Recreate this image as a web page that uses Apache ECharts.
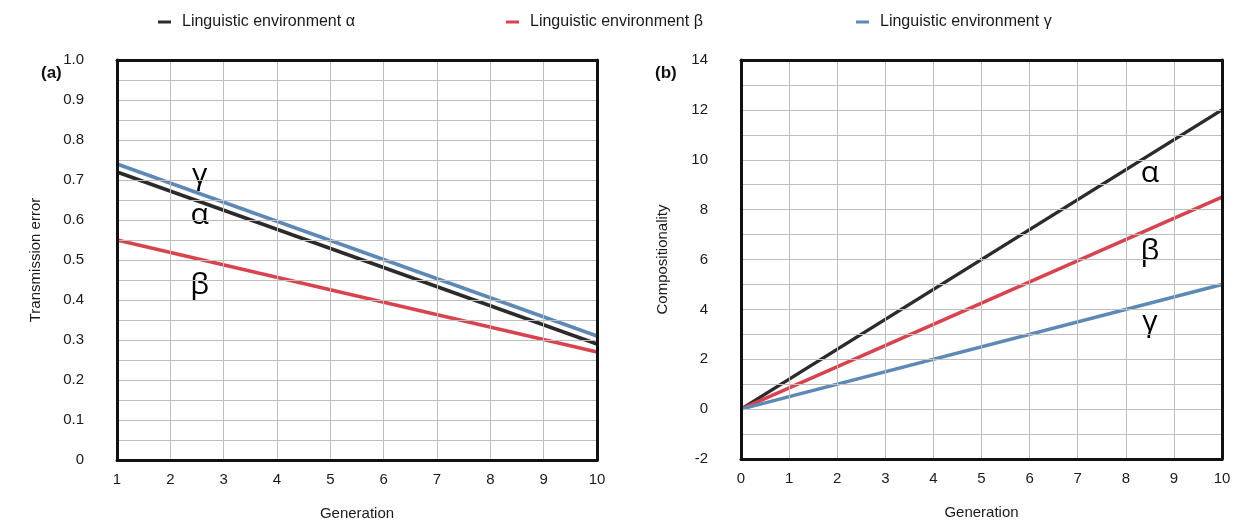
<!DOCTYPE html>
<html>
<head>
<meta charset="utf-8">
<script src="https://cdn.jsdelivr.net/npm/echarts@6/dist/echarts.min.js"></script>
<style>
  html, body { margin: 0; padding: 0; background: #fff; }
  #chart { width: 1237px; height: 523px; }
</style>
</head>
<body>
<div id="chart"></div>
<script>
// panel (a): transmission error by generation
const genA = [1, 10];
const errAlpha = [0.72, 0.29];
const errBeta = [0.55, 0.27];
const errGamma = [0.74, 0.31];

// panel (b): compositionality by generation
const genB = [0, 10];
const compAlpha = [0, 12];
const compBeta = [0, 8.5];
const compGamma = [0, 5];

// greek letter annotations [x, y, text]
const notesA = [[2.55, 0.7125, "γ"], [2.55, 0.612, "α"], [2.55, 0.4375, "β"]];
const notesB = [[8.5, 9.45, "α"], [8.5, 6.32, "β"], [8.5, 3.48, "γ"]];

const names = ["Linguistic environment α", "Linguistic environment β", "Linguistic environment γ"];
const colors = ["#2b2b2b", "#d8434d", "#5d89b7"];

const chart = echarts.init(document.getElementById("chart"));
const font = "Liberation Sans, Arial, sans-serif";

function pairs(xs, ys) {
  return xs.map((x, i) => [x, ys[i]]);
}

function lineSeries(name, data, idx, color) {
  return {
    name: name,
    type: "line",
    xAxisIndex: idx * 2,
    yAxisIndex: idx * 2,
    data: data,
    symbol: "none",
    lineStyle: { color: color, width: 3.5 },
    itemStyle: { color: color },
    silent: true,
    z: 3
  };
}

function noteSeries(notes, idx) {
  return {
    type: "scatter",
    xAxisIndex: idx * 2,
    yAxisIndex: idx * 2,
    symbolSize: 0,
    itemStyle: { opacity: 1 },
    data: notes.map(n => ({ value: [n[0], n[1]], label: { formatter: n[2] } })),
    label: {
      show: true,
      position: "inside",
      color: "#000",
      fontSize: 30,
      fontFamily: "Open Sans, DejaVu Sans, sans-serif"
    },
    silent: true,
    z: 4
  };
}

const gridLine = { show: true, lineStyle: { color: "#bdbdbd", width: 1 } };
const axisText = { color: "#1a1a1a", fontSize: 15, fontFamily: font };
const frame = { show: true, onZero: false, lineStyle: { color: "#111", width: 3 } };

function xAxis(idx, min) {
  return {
    type: "value",
    gridIndex: idx,
    min: min,
    max: 10,
    interval: 1,
    name: "Generation",
    nameLocation: "middle",
    nameGap: 46,
    nameTextStyle: { color: "#1a1a1a", fontSize: 15, fontFamily: font },
    axisLine: frame,
    axisTick: { show: false },
    axisLabel: Object.assign({ margin: 12 }, axisText),
    splitLine: gridLine,
    z: 5
  };
}

// top / right edges of each frame
function edgeX(idx, min) {
  return { type: "value", gridIndex: idx, position: "top", min: min, max: 10, axisLine: frame,
    axisTick: { show: false }, axisLabel: { show: false }, splitLine: { show: false }, z: 5 };
}
function edgeY(idx, min, max) {
  return { type: "value", gridIndex: idx, position: "right", min: min, max: max, axisLine: frame,
    axisTick: { show: false }, axisLabel: { show: false }, splitLine: { show: false }, z: 5 };
}

function yAxis(idx, min, max, interval, name, gap, fmt) {
  return {
    type: "value",
    gridIndex: idx,
    min: min,
    max: max,
    interval: interval,
    name: name,
    nameLocation: "middle",
    nameGap: gap,
    nameTextStyle: { color: "#1a1a1a", fontSize: 15, fontFamily: font },
    axisLine: frame,
    axisTick: { show: false },
    axisLabel: Object.assign({ margin: 33, formatter: fmt }, axisText),
    splitLine: gridLine,
    minorTick: { show: false, splitNumber: 2 },
    minorSplitLine: { show: true, lineStyle: { color: "#bdbdbd", width: 1 } },
    z: 5
  };
}

const legendBase = {
  top: 9,
  icon: "rect",
  itemWidth: 13,
  itemHeight: 3,
  itemGap: 0,
  selectedMode: false,
  textStyle: { fontSize: 16, color: "#1a1a1a", fontFamily: font, padding: [0, 0, 0, 6] }
};

const option = {
  backgroundColor: "#fff",
  animation: false,
  title: [
    { text: "(a)", left: 36, top: 60, textStyle: { fontSize: 17, fontWeight: "bold", color: "#111", fontFamily: font } },
    { text: "(b)", left: 650, top: 60, textStyle: { fontSize: 17, fontWeight: "bold", color: "#111", fontFamily: font } }
  ],
  legend: [
    Object.assign({ left: 153, data: [names[0]] }, legendBase),
    Object.assign({ left: 501, data: [names[1]] }, legendBase),
    Object.assign({ left: 851, data: [names[2]] }, legendBase)
  ],
  grid: [
    { left: 117, right: 640, top: 60, bottom: 63, outerBoundsMode: "none" },
    { left: 741, right: 15, top: 60, bottom: 64, outerBoundsMode: "none" }
  ],
  xAxis: [xAxis(0, 1), edgeX(0, 1), xAxis(1, 0), edgeX(1, 0)],
  yAxis: [
    yAxis(0, 0, 1, 0.1, "Transmission error", 74, v => (v === 0 ? "0" : v.toFixed(1))),
    edgeY(0, 0, 1),
    yAxis(1, -2, 14, 2, "Compositionality", 71, v => String(v)),
    edgeY(1, -2, 14)
  ],
  series: [
    lineSeries(names[0], pairs(genA, errAlpha), 0, colors[0]),
    lineSeries(names[1], pairs(genA, errBeta), 0, colors[1]),
    lineSeries(names[2], pairs(genA, errGamma), 0, colors[2]),
    lineSeries(names[0], pairs(genB, compAlpha), 1, colors[0]),
    lineSeries(names[1], pairs(genB, compBeta), 1, colors[1]),
    lineSeries(names[2], pairs(genB, compGamma), 1, colors[2]),
    noteSeries(notesA, 0),
    noteSeries(notesB, 1)
  ]
};

chart.setOption(option);
</script>
</body>
</html>
